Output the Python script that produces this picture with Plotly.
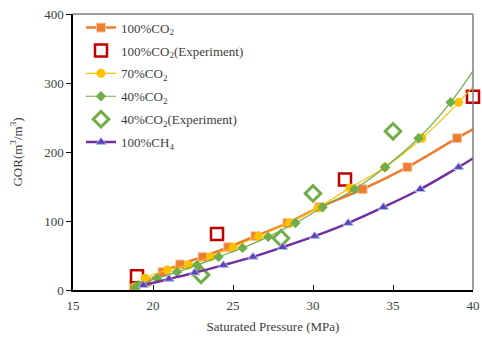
import plotly.graph_objects as go

co2_100_x = [18.8, 19.6, 20.6, 21.7, 23.1, 24.7, 26.4, 28.4, 30.4, 33.1, 35.9, 39.0, 42.3]
co2_100_y = [5, 12, 26, 37, 48, 62, 78, 97, 120, 146, 178, 220, 262]

co2_100_exp_x = [19, 24, 32, 40]
co2_100_exp_y = [20, 81, 160, 280]

co2_70_x = [18.9, 19.5, 20.9, 22.2, 23.6, 25.0, 26.6, 28.5, 30.3, 32.3, 34.5, 36.8, 39.1, 41.5]
co2_70_y = [5, 17, 29, 36, 48, 62, 78, 97, 119, 148, 178, 220, 272, 335]

co2_40_x = [18.9, 19.1, 20.25, 21.5, 22.75, 24.1, 25.6, 27.2, 28.9, 30.6, 32.6, 34.5, 36.6, 38.6, 40.8]
co2_40_y = [4, 7, 17, 26, 36, 48, 61, 77, 97, 120, 146, 178, 220, 272, 345]

co2_40_exp_x = [23, 28, 30, 35]
co2_40_exp_y = [22, 75, 140, 230]

ch4_x = [19.4, 21.0, 22.6, 24.4, 26.25, 28.1, 30.1, 32.2, 34.4, 36.7, 39.1, 41.6]
ch4_y = [7, 16, 25, 36, 48, 62, 78, 97, 120, 146, 178, 214]

x_ticks = [15, 20, 25, 30, 35, 40]
y_ticks = [0, 100, 200, 300, 400]

FONT = "Liberation Serif"
TXT = "#404040"

fig = go.Figure()
fig.add_trace(go.Scatter(x=co2_100_x, y=co2_100_y, mode="lines+markers", name="100%CO<sub>2</sub>",
                         legendgroup="a",
                         line=dict(color="#ED7D31", width=2.5, shape="spline"),
                         marker=dict(symbol="square", size=9, color="#ED7D31", line=dict(color="#F8CBAD", width=1))))
fig.add_trace(go.Scatter(x=co2_100_exp_x, y=co2_100_exp_y, mode="markers", name="100%CO<sub>2</sub>(Experiment)",
                         legendgroup="b", cliponaxis=False,
                         marker=dict(symbol="square-open", size=12, color="#C00000", line=dict(width=2.5))))
fig.add_trace(go.Scatter(x=co2_70_x, y=co2_70_y, mode="lines+markers", name="70%CO<sub>2</sub>",
                         legendgroup="c",
                         line=dict(color="#FFC000", width=1.2, shape="spline"),
                         marker=dict(symbol="circle", size=9, color="#FFC000")))
fig.add_trace(go.Scatter(x=co2_40_x, y=co2_40_y, mode="lines+markers", name="40%CO<sub>2</sub>",
                         legendgroup="d",
                         line=dict(color="#70AD47", width=1.2, shape="spline"),
                         marker=dict(symbol="diamond", size=8, color="#70AD47")))
fig.add_trace(go.Scatter(x=co2_40_exp_x, y=co2_40_exp_y, mode="markers", name="40%CO<sub>2</sub>(Experiment)",
                         legendgroup="e", cliponaxis=False,
                         marker=dict(symbol="diamond-open", size=12, color="#70AD47", line=dict(width=3))))
fig.add_trace(go.Scatter(x=ch4_x, y=ch4_y, mode="lines+markers", name="100%CH<sub>4</sub>",
                         legendgroup="f",
                         line=dict(color="#7030A0", width=2.5, shape="spline"),
                         marker=dict(symbol="triangle-up", size=9, color="#6A3DB8", line=dict(color="#9DC3E6", width=1))))

fig.update_layout(
    width=482, height=338,
    margin=dict(l=73, r=9, t=14, b=48),
    paper_bgcolor="white", plot_bgcolor="white",
    font=dict(family=FONT, size=13, color=TXT),
    showlegend=True,
    legend=dict(x=0.02, y=1.005, xanchor="left", yanchor="top", bgcolor="rgba(0,0,0,0)",
                font=dict(family=FONT, size=13, color=TXT), tracegroupgap=3,
                traceorder="grouped"),
    xaxis=dict(range=[15, 40], tickvals=x_ticks, ticks="inside", ticklen=5, tickcolor="black",
               showline=True, linecolor="black", linewidth=1.5, showgrid=False, zeroline=False,
               automargin=False, ticklabelstandoff=3, ticklabeloverflow="allow",
               title=dict(text="Saturated Pressure (MPa)", font=dict(family=FONT, size=13, color=TXT), standoff=10),
               tickfont=dict(family=FONT, size=13, color=TXT)),
    yaxis=dict(range=[0, 400], tickvals=y_ticks, ticks="outside", ticklen=5, tickcolor="black",
               showline=True, linecolor="black", linewidth=1.5, showgrid=False, zeroline=False,
               automargin=False, ticklabeloverflow="allow",
               title=dict(text="GOR(m<sup>3</sup>/m<sup>3</sup>)", font=dict(family=FONT, size=13, color=TXT), standoff=19),
               tickfont=dict(family=FONT, size=13, color=TXT)),
    shapes=[
        dict(type="line", xref="paper", yref="paper", x0=0, x1=1, y0=1, y1=1, line=dict(color="#7F7F7F", width=1.5)),
        dict(type="line", xref="paper", yref="paper", x0=1, x1=1, y0=0, y1=1, line=dict(color="#7F7F7F", width=1.5)),
    ],
)

fig.write_html("out.html", config={"displayModeBar": False},
               post_script="document.body.style.margin='0px';document.body.style.overflow='hidden';")
